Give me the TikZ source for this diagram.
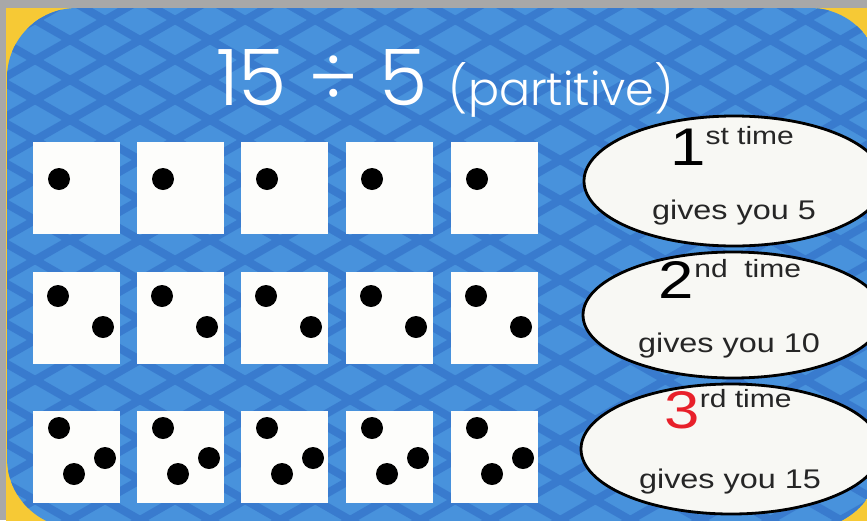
\documentclass[tikz,border=0pt]{standalone}
\usepackage{fontspec}
\setmainfont{Liberation Sans}
\newfontfamily\titlefont{Poppins Light}
\newfontfamily\bubfont[FakeStretch=1.2]{Liberation Sans}
\usepackage{xcolor}
\definecolor{cFrame} {HTML}{A8A8A8}
\definecolor{cYellow}{HTML}{F6C935}
\definecolor{cBlue}  {HTML}{4892DC}
\definecolor{cMesh}  {HTML}{2C68C2}
\definecolor{cTile}  {HTML}{FDFDFB}
\definecolor{cBubble}{HTML}{F8F8F4}
\definecolor{cRed}   {HTML}{E8202A}
\usepackage{tikz}
\usetikzlibrary{shapes.geometric, positioning}
\tikzset{
  tile/.style   = {rectangle, fill=cTile, minimum width=87pt,
                   minimum height=92pt, inner sep=0pt, anchor=north west},
  pip/.style    = {circle, fill=black, minimum size=22pt, inner sep=0pt},
  bubble/.style = {ellipse, draw=black, line width=2.8pt, fill=cBubble,
                   minimum width=300pt, minimum height=130pt, inner sep=0pt},
  bubtxt/.style = {anchor=base, inner sep=0pt, text=black!85},
  mesh/.style   = {draw=cMesh!55!cBlue, line width=8pt, line cap=round},
}
% ordinal line: big digit, then raised suffix
\newcommand{\ordline}[3]{{\color{#3}\fontsize{53}{53}\selectfont #1}%
  \raisebox{21pt}{\fontsize{25}{25}\selectfont #2}}

\begin{document}
\begin{tikzpicture}[x=1pt, y=-1pt]

  \useasboundingbox (0,0) rectangle (867,520);

  %% --- frame and background ---
  \fill[cFrame]  (0,0) rectangle (867,520);
  \fill[cYellow] (6,8) rectangle (880,530);
  \begin{scope}
    \clip[rounded corners=70pt] (7,8) rectangle (880,528);
    \fill[cBlue] (7,8) rectangle (880,528);
    \foreach \k in {-14,...,27} {
      \draw[mesh] (0,{\k*40}) -- (900,{\k*40+514});
      \draw[mesh] (0,{\k*40}) -- (900,{\k*40-514});
    }
  \end{scope}

  %% --- title ---
  \node[anchor=base, text=white, inner sep=0pt] (title) at (445,105)
        {\titlefont\fontsize{78}{78}\selectfont 15 ÷ 5
         {\fontsize{46}{46}\selectfont (partitive)}};

  %% --- tiles with pips ---
  \foreach \c/\x in {1/33,2/137,3/241,4/346,5/451} {
    \node[tile] (a\c) at (\x,142) {};
    \node[pip]  (a\c p) at ([shift={(26,37)}]a\c.north west) {};

    \node[tile] (b\c) at (\x,272) {};
    \node[pip]  (b\c p) at ([shift={(25,24)}]b\c.north west) {};
    \node[pip]  (b\c q) at ([shift={(70,55)}]b\c.north west) {};

    \node[tile] (c\c) at (\x,411) {};
    \node[pip]  (c\c p) at ([shift={(26,17)}]c\c.north west) {};
    \node[pip]  (c\c q) at ([shift={(72,47)}]c\c.north west) {};
    \node[pip]  (c\c r) at ([shift={(41,63)}]c\c.north west) {};
  }

  %% --- bubbles ---
  \node[bubble] (e1) at (734,181) {};
  \node[bubble, minimum height=126pt] (e2) at (733,315) {};
  \node[bubble] (e3) at (731,449) {};

  \node[bubtxt] (e1top) at ([xshift=-2pt, yshift=16pt]e1.center)
        {\bubfont\ordline{1}{st time}{black}};
  \node[bubtxt] (e1bot) at ([yshift=-38pt]e1.center)
        {\bubfont\fontsize{27}{27}\selectfont gives you 5};

  \node[bubtxt] (e2top) at ([xshift=-3pt, yshift=17pt]e2.center)
        {\bubfont\ordline{2}{nd\ \ time}{black}};
  \node[bubtxt] (e2bot) at ([xshift=-4pt, yshift=-37pt]e2.center)
        {\bubfont\fontsize{27}{27}\selectfont gives you 10};

  \node[bubtxt] (e3top) at ([xshift=-3pt, yshift=21pt]e3.center)
        {\bubfont\ordline{3}{rd time}{cRed}};
  \node[bubtxt] (e3bot) at ([xshift=-1pt, yshift=-39pt]e3.center)
        {\bubfont\fontsize{27}{27}\selectfont gives you 15};

\end{tikzpicture}
\end{document}
